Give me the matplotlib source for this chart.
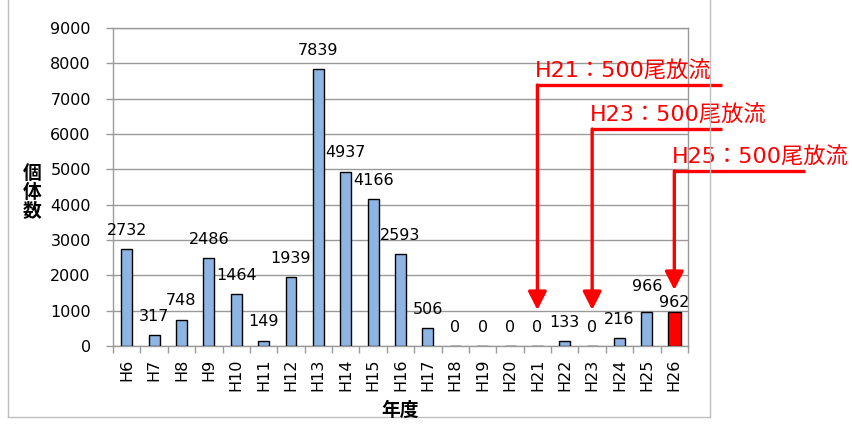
import matplotlib
matplotlib.use("Agg")
import matplotlib.pyplot as plt
from matplotlib.lines import Line2D
from matplotlib.ticker import FixedLocator, MultipleLocator
import numpy as np

plt.rcParams["font.family"] = ["DejaVu Sans", "Noto Sans CJK JP"]

years = ["H6", "H7", "H8", "H9", "H10", "H11", "H12", "H13", "H14", "H15", "H16",
         "H17", "H18", "H19", "H20", "H21", "H22", "H23", "H24", "H25", "H26"]
counts = [2732, 317, 748, 2486, 1464, 149, 1939, 7839, 4937, 4166, 2593,
          506, 0, 0, 0, 0, 133, 0, 216, 966, 962]

# stocking events (500 fish released) and the survey year each arrow points to
release_labels = ["H21：500尾放流", "H23：500尾放流", "H25：500尾放流"]
arrow_targets = ["H21", "H23", "H26"]

BLUE = "#8DB4E2"
GRID = "#9a9a9a"
FS = 11.5

fig = plt.figure(figsize=(8.52, 4.24), dpi=100)
ax = fig.add_axes([113 / 852, 78 / 424, 575 / 852, 318 / 424])

x = np.arange(len(years))
colors = [BLUE] * len(years)
widths = [0.40] * len(years)
colors[-1] = "#FF0000"
widths[-1] = 0.46
ax.bar(x, counts, width=widths, color=colors, edgecolor="black", linewidth=1.0,
       zorder=3)

# last two labels nudged so they don't sit under the H25 arrow
label_off = {"H25": 18, "H26": 6.5}
for i, v in enumerate(counts):
    off = label_off.get(years[i], 13.5)
    ax.annotate(str(v), (x[i], v), xytext=(0, off), textcoords="offset points",
                ha="center", va="center", fontsize=FS, zorder=4)

ax.set_xlim(-0.5, len(years) - 0.5)
ax.set_ylim(0, 9000)
ax.yaxis.set_major_locator(MultipleLocator(1000))
ax.set_xticks(x)
ax.set_xticklabels(years, rotation=90, fontsize=FS)
ax.xaxis.set_minor_locator(FixedLocator(np.arange(-0.5, len(years), 1.0)))
ax.tick_params(axis="x", which="major", length=0, pad=9)
ax.tick_params(axis="x", which="minor", length=5, color=GRID, width=1)
ax.tick_params(axis="y", length=5, color=GRID, width=1, pad=11, labelsize=FS)
ax.grid(axis="y", color=GRID, linewidth=1, zorder=0)
for s in ax.spines.values():
    s.set_color(GRID)
    s.set_linewidth(1)

fig.text(32 / 852, 0.547, "個\n体\n数", ha="center", va="center", fontsize=13.5,
         fontweight="bold", linespacing=1.0)
fig.text(400 / 852, 14 / 424, "年度", ha="center", va="center", fontsize=13.5,
         fontweight="bold")

# outer chart border
for xs, ys in [([8, 8], [-5, 417]), ([8, 710], [417, 417]), ([710, 710], [417, -5])]:
    fig.add_artist(Line2D([v / 852 for v in xs], [(424 - v) / 424 for v in ys],
                          color="#BFBFBF", linewidth=1))

# release arrows
corner_y = [7387, 6141, 4953]
arm_end = [21.74, 21.74, 24.77]
tip_y = [1019, 1019, 1585]
for lab, yr, cy, xe, ty in zip(release_labels, arrow_targets, corner_y, arm_end, tip_y):
    xi = years.index(yr)
    ax.plot([xi, xe], [cy, cy], color="red", linewidth=2.4, clip_on=False,
            solid_capstyle="butt", zorder=5)
    ax.annotate("", xy=(xi, ty), xytext=(xi, cy),
                arrowprops=dict(arrowstyle="-|>,head_length=0.55,head_width=0.28",
                                mutation_scale=20, color="red", lw=2.4,
                                shrinkA=0, shrinkB=0),
                annotation_clip=False, zorder=5)
    ax.annotate(lab, (xi, cy), xytext=(-2, 10), textcoords="offset points",
                ha="left", va="center", color="red", fontsize=16,
                annotation_clip=False, zorder=6)

fig.savefig("out.png", dpi=100)
